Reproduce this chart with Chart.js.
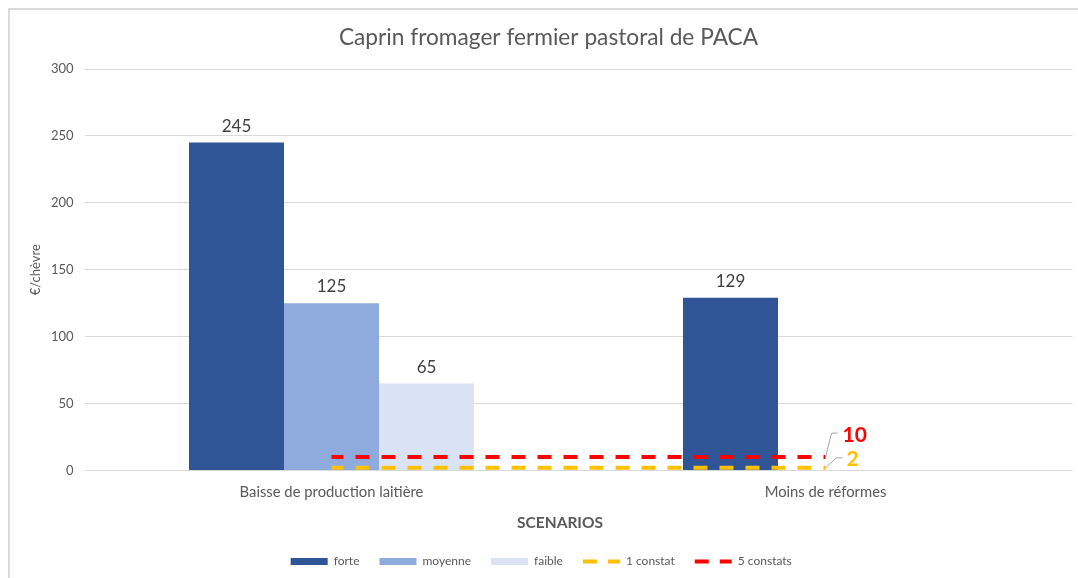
<!DOCTYPE html>
<html>
<head>
<meta charset="utf-8">
<script src="https://cdn.jsdelivr.net/npm/chart.js@4"></script>
<style>
	body { margin: 0; background: #fff; overflow: hidden; }
	#frame { position: absolute; left: 8px; top: 8px; width: 1200px; height: 700px; border-left: 2px solid #d9d9d9; border-top: 2px solid #d9d9d9; }
	#chart { position: absolute; left: 0; top: 0; }
</style>
</head>
<body>
<div id="frame"></div>
<canvas id="chart" width="1096" height="580"></canvas>
<script>
// Data
const chartTitle = 'Caprin fromager fermier pastoral de PACA';
const categories = ['Baisse de production laitière', 'Moins de réformes'];
const forte = [245, 129];
const moyenne = [125, null];
const faible = [65, null];
const unConstat = [2, 2];
const cinqConstats = [10, 10];
const yTicks = [0, 50, 100, 150, 200, 250, 300];

const FONT = 'Lato, "Open Sans", sans-serif';
const GREY = '#595959';

// Value labels above bars
const barLabels = {
	id: 'barLabels',
	afterDatasetsDraw(chart) {
		const ctx = chart.ctx;
		ctx.save();
		ctx.font = '17px ' + FONT;
		ctx.fillStyle = '#404040';
		ctx.textAlign = 'center';
		ctx.textBaseline = 'alphabetic';
		chart.data.datasets.forEach((ds, i) => {
			if (ds.type === 'line') return;
			chart.getDatasetMeta(i).data.forEach((bar, j) => {
				if (ds.data[j] == null) return;
				ctx.fillText(ds.data[j], bar.x, bar.y - 11);
			});
		});
		ctx.restore();
	},
};

// Callout labels at the end of the threshold lines, chart title, x axis title
const lineCallouts = {
	id: 'lineCallouts',
	afterDraw(chart) {
		const ctx = chart.ctx;
		const callouts = [
			{ idx: 4, elbow: [6, -24], text: [17, -22], color: '#FF0000' },
			{ idx: 3, elbow: [11, -10], text: [21, -9], color: '#FFC000' },
		];
		ctx.save();
		callouts.forEach((c) => {
			const pts = chart.getDatasetMeta(c.idx).data;
			const p = pts[pts.length - 1];
			const val = chart.data.datasets[c.idx].data[pts.length - 1];
			ctx.strokeStyle = '#a6a6a6';
			ctx.lineWidth = 1;
			ctx.beginPath();
			ctx.moveTo(p.x, p.y);
			ctx.lineTo(p.x + c.elbow[0], p.y + c.elbow[1]);
			ctx.lineTo(p.x + c.elbow[0] + 6, p.y + c.elbow[1]);
			ctx.stroke();
			ctx.font = 'bold 21px ' + FONT;
			ctx.fillStyle = c.color;
			ctx.textAlign = 'left';
			ctx.textBaseline = 'middle';
			ctx.fillText(val, p.x + c.text[0], p.y + c.text[1]);
		});
		ctx.fillStyle = GREY;
		ctx.textAlign = 'center';
		ctx.textBaseline = 'middle';
		ctx.font = '22.7px ' + FONT;
		ctx.fillText(chartTitle, 548.5, 37.5);
		ctx.font = 'bold 15.5px ' + FONT;
		ctx.fillText('SCENARIOS', 560, 523);
		ctx.restore();
	},
};

const lineDs = (label, data, color) => ({
	type: 'line',
	label,
	data,
	borderColor: color,
	backgroundColor: color,
	borderWidth: 4,
	borderDash: [14, 12],
	borderDashOffset: 2,
	pointRadius: 0,
	fill: false,
	order: 0,
});

new Chart(document.getElementById('chart'), {
	type: 'bar',
	data: {
		labels: categories,
		datasets: [
			{ label: 'forte', data: forte, backgroundColor: '#2F5597', order: 1 },
			{ label: 'moyenne', data: moyenne, backgroundColor: '#8FAADC', order: 1 },
			{ label: 'faible', data: faible, backgroundColor: '#DAE3F3', order: 1 },
			lineDs('1 constat', unConstat, '#FFC000'),
			lineDs('5 constats', cinqConstats, '#FF0000'),
		],
	},
	options: {
		responsive: false,
		animation: false,
		categoryPercentage: 0.577,
		barPercentage: 1,
		layout: { padding: { left: 10, right: 23.5, top: 69, bottom: 2.5 } },
		plugins: {
			title: { display: false },
			legend: {
				position: 'bottom',
				labels: {
					color: GREY,
					font: { family: FONT, size: 12 },
					usePointStyle: true,
					pointStyleWidth: 37,
					boxHeight: 7,
					padding: 20,
					generateLabels(chart) {
						const items = Chart.defaults.plugins.legend.labels.generateLabels(chart);
						items.sort((a, b) => a.datasetIndex - b.datasetIndex);
						return items.map((it) => {
							const ds = chart.data.datasets[it.datasetIndex];
							if (ds.type === 'line') {
								it.pointStyle = 'line';
								it.lineWidth = 4;
								it.lineDash = [14, 11];
								it.lineDashOffset = 0;
							} else {
								it.pointStyle = 'rect';
								it.lineWidth = 0;
							}
							return it;
						});
					},
				},
			},
			tooltip: { enabled: false },
		},
		scales: {
			x: {
				grid: { display: false },
				border: { display: false },
				ticks: { color: GREY, font: { family: FONT, size: 14.8 }, padding: 5 },
				afterFit(scale) { scale.height = 65; },
			},
			y: {
				min: 0,
				max: 300,
				afterBuildTicks(scale) { scale.ticks = yTicks.map((v) => ({ value: v })); },
				grid: { color: '#d9d9d9', drawTicks: false },
				border: { display: false },
				ticks: { color: GREY, font: { family: FONT, size: 13 }, padding: 11 },
				title: {
					display: true,
					text: '€/chèvre',
					color: GREY,
					font: { family: FONT, size: 13 },
					padding: { top: 18, bottom: 0 },
				},
				afterFit(scale) { scale.width = 74.5; },
			},
		},
	},
	plugins: [barLabels, lineCallouts],
});
</script>
</body>
</html>
